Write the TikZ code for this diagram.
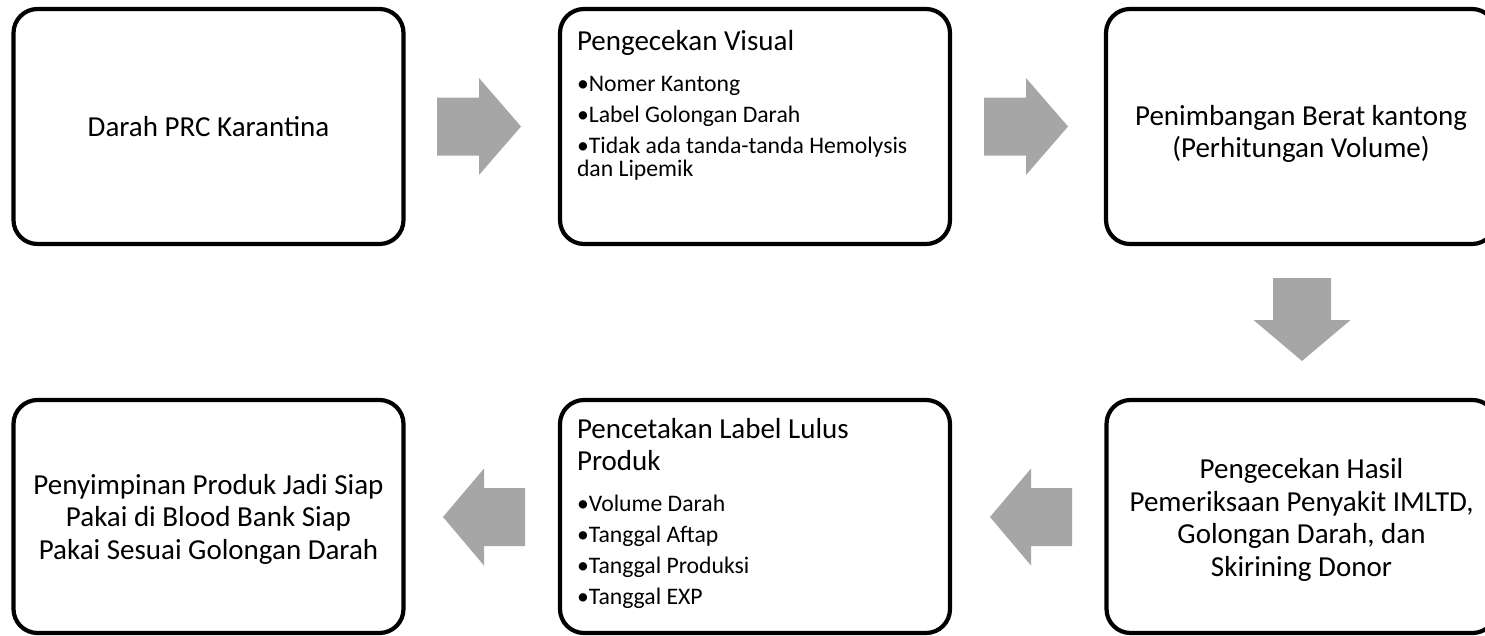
\documentclass[tikz,border=0pt]{standalone}
\usepackage{fontspec}
\setmainfont{Carlito}
\definecolor{arrowgray}{HTML}{A6A6A6}
\newcommand\mainsz{\fontsize{29pt}{32.5pt}\selectfont}
\newcommand\bulsz{\fontsize{23.7pt}{23.7pt}\selectfont}
\newlength\bulw
\newcommand\bitem[1]{\par\settowidth\bulw{\bulsz •}\hangindent=\bulw\hangafter=1\noindent•#1\par}
\newcommand\listbox[3]{\parbox[c][#1][t]{390pt}{\raggedright\leftskip=17pt\parindent=0pt\parskip=0pt\mainsz\rule{0pt}{#2}#3}}
\newcommand\topstrut[1]{\rule{0pt}{#1}}
\tikzset{
  box/.style={draw=black, line width=4.2pt, rounded corners=24pt, fill=white,
    minimum width=390pt, minimum height=235pt, inner sep=0pt, align=center, font=\mainsz},
  lowbox/.style={box, minimum height=233pt},
  barrow/.style={fill=arrowgray, draw=none}
}
\begin{document}
\begin{tikzpicture}[x=1pt,y=-1pt]
\useasboundingbox (0,0) rectangle (1485,635);
% top row
\node[box] (b1) at (208.5,126.5) {Darah PRC Karantina};
\node[box] (b2) at (755,126.5) {\listbox{235pt}{41pt}{Pengecekan Visual\par\bulsz\vspace{10pt}\parskip=7.3pt
  \bitem{Nomer Kantong}\bitem{Label Golongan Darah}\bitem{Tidak ada tanda-tanda Hemolysis\\dan Lipemik}}};
\node[box] (b3) at (1301,126.5) {\topstrut{35pt}Penimbangan Berat kantong\\(Perhitungan Volume)};
% bottom row
\node[lowbox] (b4) at (208.5,516.5) {\topstrut{25pt}Penyimpinan Produk Jadi Siap\\Pakai di Blood Bank Siap\\Pakai Sesuai Golongan Darah};
\node[lowbox] (b5) at (755,516.5) {\listbox{233pt}{38pt}{Pencetakan Label Lulus\\Produk\par\bulsz\vspace{10pt}\parskip=7.3pt
  \bitem{Volume Darah}\bitem{Tanggal Aftap}\bitem{Tanggal Produksi}\bitem{Tanggal EXP}}};
\node[lowbox] (b6) at (1301.5,516.5) {\topstrut{27pt}Pengecekan Hasil\\Pemeriksaan Penyakit IMLTD,\\Golongan Darah, dan\\Skirining Donor};
% block arrows
\fill[barrow] (437,97.5) -- (479,97.5) -- (479,78) -- (521,126.5) -- (479,175) -- (479,155.5) -- (437,155.5) -- cycle;
\fill[barrow] (984,97.5) -- (1026,97.5) -- (1026,78) -- (1068,126.5) -- (1026,175) -- (1026,155.5) -- (984,155.5) -- cycle;
\fill[barrow] (1273,278) -- (1331,278) -- (1331,320) -- (1350.5,320) -- (1302,361) -- (1253.5,320) -- (1273,320) -- cycle;
\fill[barrow] (1072,488) -- (1031,488) -- (1031,468.5) -- (990,517) -- (1031,565.5) -- (1031,546) -- (1072,546) -- cycle;
\fill[barrow] (525,488) -- (484,488) -- (484,468.5) -- (443,517) -- (484,565.5) -- (484,546) -- (525,546) -- cycle;
\end{tikzpicture}
\end{document}
